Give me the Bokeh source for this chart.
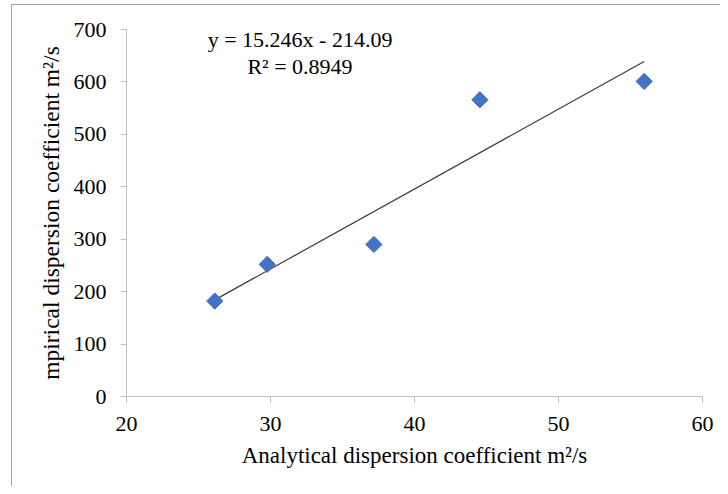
from bokeh.plotting import figure
from bokeh.models import Range1d, Label, FixedTicker
from bokeh.embed import file_html
from bokeh.resources import INLINE
import math

# Data
analytical = [26.13, 29.77, 37.18, 44.54, 55.95]
empirical = [182, 252, 290, 566, 601]
slope = 15.246
intercept = -214.09
r2 = 0.8949
x_ticks = [20, 30, 40, 50, 60]
y_ticks = [0, 100, 200, 300, 400, 500, 600, 700]

FONT = "Liberation Serif"

p = figure(width=720, height=486, output_backend="svg", toolbar_location=None,
           x_range=Range1d(20, 60), y_range=Range1d(0, 700),
           min_border_left=126, min_border_right=18, min_border_top=29, min_border_bottom=90)
p.outline_line_color = None
p.xgrid.visible = False
p.ygrid.visible = False
p.background_fill_color = "white"
p.border_fill_color = None
p.styles = {
    "background-color": "white",
    "background-image": "linear-gradient(#a6a6a6, #a6a6a6), linear-gradient(#a6a6a6, #a6a6a6)",
    "background-position": "11px 4px, 11px 4px",
    "background-size": "1px 100%, 100% 1px",
    "background-repeat": "no-repeat, no-repeat",
}

for ax in (p.xaxis[0], p.yaxis[0]):
    ax.axis_line_color = "#BFBFBF"
    ax.major_tick_line_color = "#BFBFBF"
    ax.major_tick_out = 6
    ax.major_tick_in = 0
    ax.minor_tick_line_color = None
    ax.major_label_text_font = FONT
    ax.major_label_text_font_size = "22px"
    ax.major_label_text_color = "#000000"
    ax.axis_label_text_font = FONT
    ax.axis_label_text_font_style = "normal"
    ax.axis_label_text_color = "#000000"

p.xaxis[0].axis_label_text_font_size = "23px"
p.yaxis[0].axis_label_text_font_size = "23.5px"
p.xaxis[0].ticker = FixedTicker(ticks=x_ticks)
p.yaxis[0].ticker = FixedTicker(ticks=y_ticks)
p.xaxis[0].axis_label = "Analytical dispersion coefficient m\u00b2/s"
p.yaxis[0].axis_label = "mpirical dispersion coefficient m\u00b2/s"
p.xaxis[0].major_label_standoff = 14
p.yaxis[0].major_label_standoff = 14
p.xaxis[0].axis_label_standoff = 9
p.yaxis[0].axis_label_standoff = 7

# Trend line across the data range
x0, x1 = min(analytical), max(analytical)
p.line([x0, x1], [slope * x0 + intercept, slope * x1 + intercept],
       line_color="#3a3a3a", line_width=1.2)

p.scatter(analytical, empirical, marker="square", size=11.5, angle=math.pi / 4,
          fill_color="#4472C4", line_color="#4472C4")

eq1 = Label(x=32.05, y=681, text=f"y = {slope}x - {abs(intercept):.2f}",
            text_font=FONT, text_font_size="22px", text_align="center",
            text_baseline="alphabetic", text_color="#000000")
eq2 = Label(x=32.05, y=629, text=f"R\u00b2 = {r2}",
            text_font=FONT, text_font_size="22px", text_align="center",
            text_baseline="alphabetic", text_color="#000000")
p.add_layout(eq1)
p.add_layout(eq2)

open("out.html", "w").write(file_html(p, INLINE))
